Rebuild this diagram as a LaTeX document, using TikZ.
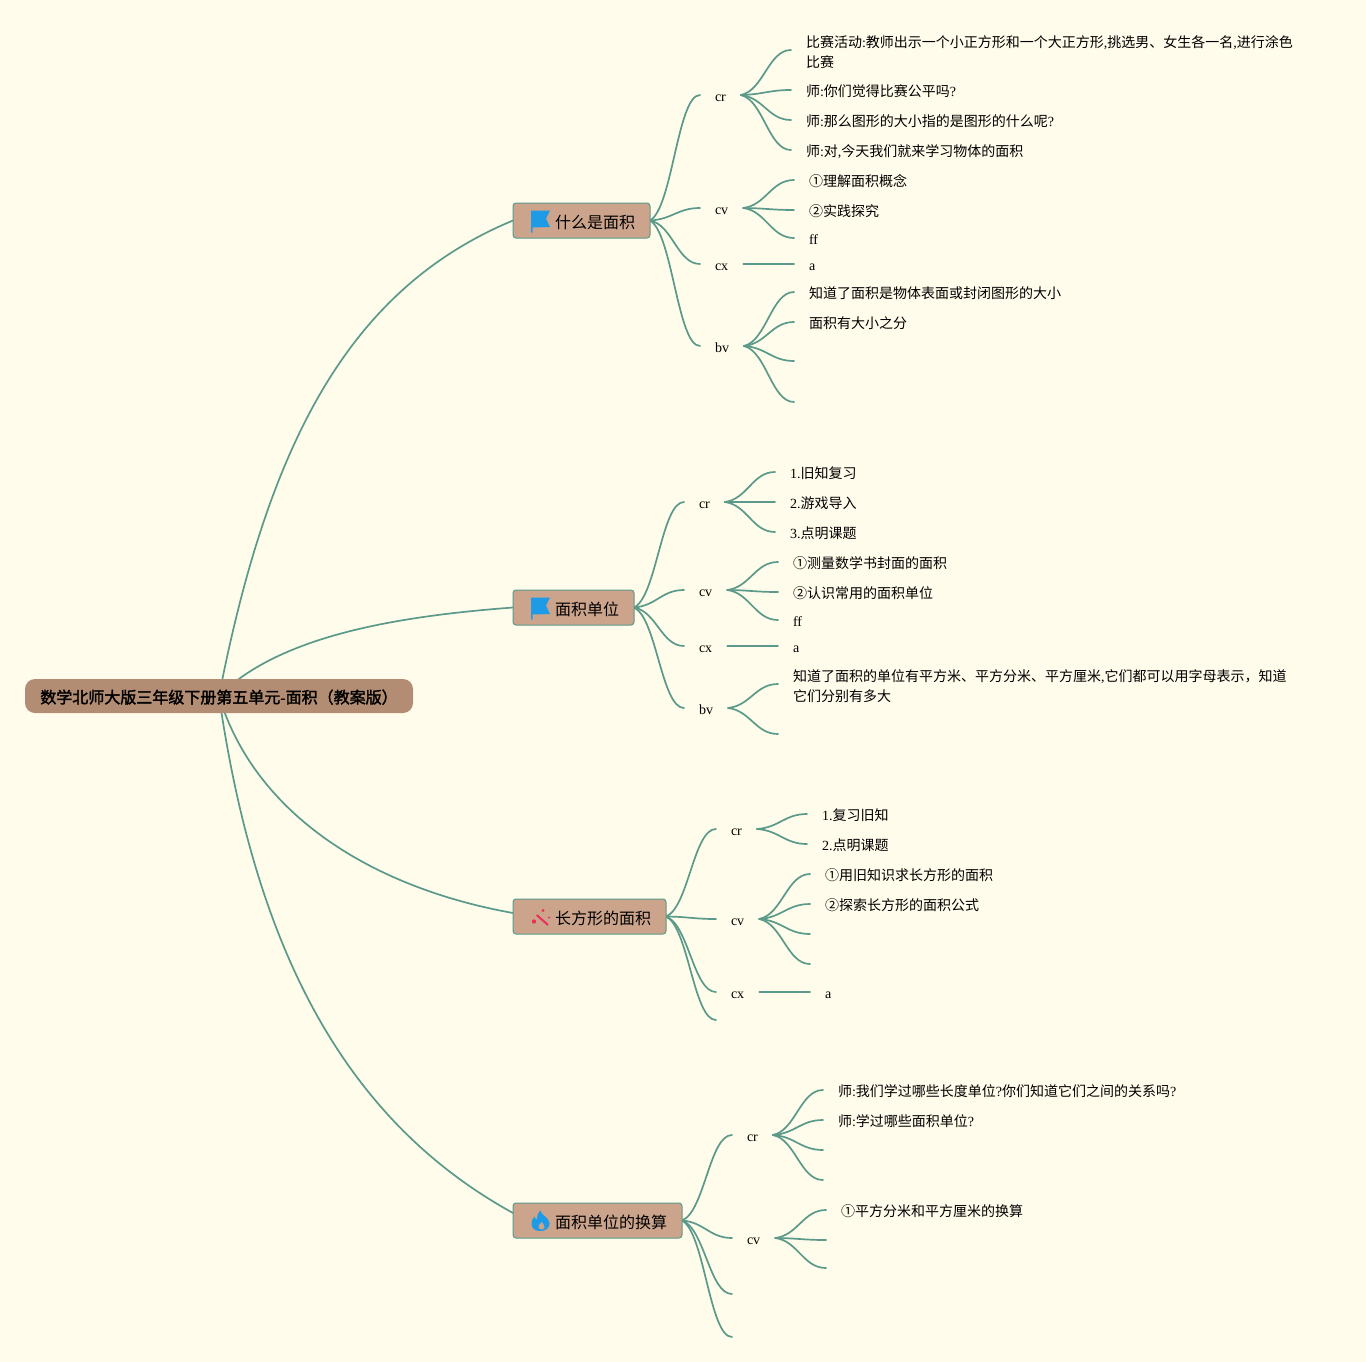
\documentclass[tikz,border=0pt]{standalone}
\usepackage{fontspec}
\usetikzlibrary{calc,backgrounds}
\setmainfont{Liberation Serif}
\newfontfamily\cjk[BoldFont={Noto Sans CJK SC},BoldFeatures={FakeBold=2}]{Noto Sans CJK SC}
% chinese characters switch to the cjk font by themselves
\newXeTeXintercharclass\zhclass
\newcount\zhc
\zhc="4E00
\loop\XeTeXcharclass\zhc=\zhclass\advance\zhc 1 \ifnum\zhc<"A000 \repeat
\XeTeXcharclass"2460=\zhclass
\XeTeXcharclass"2461=\zhclass
\XeTeXcharclass"3001=\zhclass
\XeTeXcharclass"FF08=\zhclass
\XeTeXcharclass"FF09=\zhclass
\XeTeXcharclass"FF0C=\zhclass
\XeTeXinterchartokenstate=1
\XeTeXinterchartoks 0 \zhclass={\cjk}
\XeTeXinterchartoks \zhclass 0 ={\rmfamily}
\XeTeXinterchartoks 4095 \zhclass={\cjk}
\XeTeXinterchartoks \zhclass 4095 ={\rmfamily}
\definecolor{pagebg}{HTML}{FFFCEB}
\definecolor{linkc}{HTML}{5B9A8A}
\definecolor{rootc}{HTML}{B38D73}
\definecolor{mainc}{HTML}{CCA48C}
\definecolor{iconb}{HTML}{1E9BE6}
\definecolor{iconr}{HTML}{E8305A}
\tikzset{
	link/.style={draw=linkc, line width=1.7pt, line cap=round},
	rootnode/.style={fill=rootc, rounded corners=10pt, minimum width=388pt, minimum height=34pt, inner sep=0pt, outer sep=0pt, font=\fontsize{16}{20}\selectfont\bfseries, execute at begin node=\rule{0pt}{16pt}},
	mainnode/.style={draw=linkc, line width=1pt, fill=mainc, rounded corners=3pt, minimum height=35pt, inner xsep=15pt, inner ysep=0pt, outer sep=0pt, anchor=west, font=\fontsize{16}{20}\selectfont, execute at begin node=\hspace{27pt}\rule{0pt}{17pt}},
	subnode/.style={inner xsep=15pt, inner ysep=0pt, outer sep=0pt, anchor=west, font=\fontsize{14}{20}\selectfont, text height=14pt, text depth=0.7pt},
	leafnode/.style={inner xsep=15pt, inner ysep=0pt, outer sep=0pt, anchor=west, align=left, font=\fontsize{14}{20}\selectfont, execute at begin node=\rule{0pt}{15pt}, execute at end node=\rule[-1.4pt]{0pt}{1.4pt}},
	flagicon/.pic={
		\fill[iconb] (18,-10) -- (37,-10) -- (33,-2) -- (37,6.5) -- (19.5,7) -- (19.5,12) -- (18,12) -- cycle;
	},
	wandicon/.pic={
		\draw[iconr, line width=2pt] (23.7,-1.5) -- (35,8.5);
		\fill[iconr] (30,-6) circle (1.7) (21,5) circle (2.2) (36,1) circle (1.1);
	},
	flameicon/.pic={
		\fill[iconb] (27.5,-10) .. controls (28,-5) and (36.5,-3) .. (36.5,3) .. controls (36.5,8) and (32,10.5) .. (27.5,10.5) .. controls (22,10.5) and (18.5,8) .. (18.5,3) .. controls (18.5,0) and (20,-2) .. (21.5,-4) .. controls (22,-2) and (23,-1) .. (24,-1) .. controls (24,-4) and (25,-8) .. (27.5,-10);
		\fill[mainc] (28.5,1.5) .. controls (29.5,3) and (32,4.5) .. (31.5,7) .. controls (31,9.5) and (26,9.5) .. (25.5,7) .. controls (25,4.5) and (27.5,3.5) .. (28.5,1.5);
	},
}
\begin{document}
\begin{tikzpicture}[x=1pt, y=-1pt]
	\useasboundingbox (0,0) rectangle (1366,1362);
	\node[rootnode] (root) at (219,696) {数学北师大版三年级下册第五单元-面积（教案版）};
	\foreach \id/\x/\y/\txt in {a/513/220.5/什么是面积,b/513/607.5/面积单位,c/513/916.5/长方形的面积,d/513/1220.5/面积单位的换算}
	\node[mainnode] (\id) at (\x,\y) {\txt};
	\path (a.west) pic {flagicon} (b.west) pic {flagicon} (c.west) pic {wandicon} (d.west) pic {flameicon};
	% second level
	\foreach \id/\x/\y/\txt in {a1/700/95/cr,a2/700/208/cv,a3/700/264/cx,a4/700/346/bv,
		b1/684/502/cr,b2/684/590/cv,b3/684/646/cx,b4/684/708/bv,
		c1/716/829/cr,c2/716/919/cv,c3/716/992/cx,c4/716/1020/{},
		d1/732/1135/cr,d2/732/1238/cv,d3/732/1294/{},d4/732/1337/{}}
	\node[subnode] (\id) at (\x,\y) {\txt};
	% leaves
	\foreach \id/\x/\y/\txt in {
		a11/791/50/{\rule{0pt}{16.5pt}比赛活动:教师出示一个小正方形和一个大正方形,挑选男、女生各一名,进行涂色\\比赛},
		a12/791/90/师:你们觉得比赛公平吗?,
		a13/791/120/师:那么图形的大小指的是图形的什么呢?,
		a14/791/150/{师:对,今天我们就来学习物体的面积},
		a21/794/180/①理解面积概念,
		a22/794/210/②实践探究,
		a23/794/238/ff,
		a31/794/264/a,
		a41/794/292/知道了面积是物体表面或封闭图形的大小,
		a42/794/322/面积有大小之分,
		a43/794/361/{},
		a44/794/402/{},
		b11/775/472/1.旧知复习,
		b12/775/502/2.游戏导入,
		b13/775/532/3.点明课题,
		b21/778/562/①测量数学书封面的面积,
		b22/778/592/②认识常用的面积单位,
		b23/778/620/ff,
		b31/778/646/a,
		b41/778/684/{\rule{0pt}{16.5pt}知道了面积的单位有平方米、平方分米、平方厘米,它们都可以用字母表示，知道\\它们分别有多大},
		b42/778/734/{},
		c11/807/814/1.复习旧知,
		c12/807/844/2.点明课题,
		c21/810/874/①用旧知识求长方形的面积,
		c22/810/904/②探索长方形的面积公式,
		c23/810/934/{},
		c24/810/964/{},
		c31/810/992/a,
		d11/823/1090/师:我们学过哪些长度单位?你们知道它们之间的关系吗?,
		d12/823/1120/师:学过哪些面积单位?,
		d13/823/1150/{},
		d14/823/1180/{},
		d21/826/1210/①平方分米和平方厘米的换算,
		d22/826/1240/{},
		d23/826/1268/{}}
	\node[leafnode] (\id) at (\x,\y) {\txt};
	\begin{scope}[on background layer]
		\fill[pagebg] (0,0) rectangle (1366,1362);
		\foreach \v/\dy/\ax/\ay/\bx/\by in {a/0/268/445/348/289,b/0/280/635/400/616,c/3.5/255/815/373/888,d/7.5/255/946/343/1119.5}
		\draw[link] (root.center) .. controls (\ax,\ay) and (\bx,\by) .. ([yshift=\dy pt]\v.west);
		\foreach \u/\v in {a/a1,a/a2,a/a3,a/a4,b/b1,b/b2,b/b3,b/b4,c/c1,c/c2,c/c3,c/c4,d/d1,d/d2,d/d3,d/d4,
			a1/a11,a1/a12,a1/a13,a1/a14,a2/a21,a2/a22,a2/a23,a3/a31,a4/a41,a4/a42,a4/a43,a4/a44,
			b1/b11,b1/b12,b1/b13,b2/b21,b2/b22,b2/b23,b3/b31,b4/b41,b4/b42,
			c1/c11,c1/c12,c2/c21,c2/c22,c2/c23,c2/c24,c3/c31,
			d1/d11,d1/d12,d1/d13,d1/d14,d2/d21,d2/d22,d2/d23}
		\draw[link] let \p1=(\u.east), \p2=(\v.west), \n1={0.45*(\x2-\x1)}, \n2={0.1*(\y2-\y1)} in (\p1) .. controls (\x1+\n1,\y1+\n2) and (\x2-\n1,\y2) .. (\p2);
	\end{scope}
\end{tikzpicture}
\end{document}
